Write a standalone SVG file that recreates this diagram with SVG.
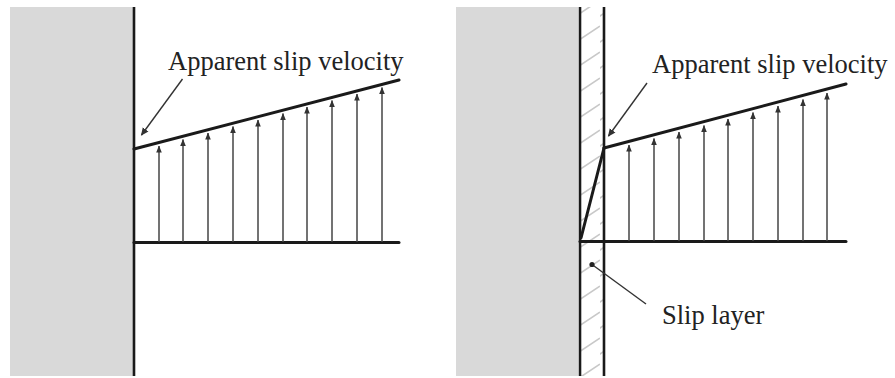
<svg xmlns="http://www.w3.org/2000/svg" width="895" height="378" viewBox="0 0 895 378">
<style>
.wallfill{fill:#d9d9d9;stroke:none}
.wall{stroke:#1a1a1a;stroke-width:2.6;fill:none}
.prof{stroke:#1a1a1a;stroke-width:3;fill:none;stroke-linecap:round}
.vel{stroke:#444;stroke-width:1.5;fill:none;marker-end:url(#ah)}
.lead{stroke:#333;stroke-width:1.4;fill:none}
.lbl{font-family:"Liberation Serif","Times New Roman",serif;font-size:26.5px;fill:#222}
</style>
<defs>
<marker id="ah" viewBox="0 0 7 6" refX="6.5" refY="3" markerWidth="7" markerHeight="6" markerUnits="userSpaceOnUse" orient="auto">
<path d="M7,3 L0,0.2 L0,5.8 Z" fill="#333"/>
</marker>
<marker id="lh" viewBox="0 0 8 8" refX="7" refY="4" markerWidth="8" markerHeight="8" markerUnits="userSpaceOnUse" orient="auto">
<path d="M0,0.5 L8,4 L0,7.5 Z" fill="#333"/>
</marker>
<pattern id="hatch" patternUnits="userSpaceOnUse" x="0" y="0" width="24" height="26">
<path d="M-12,24 L24,0 M12,40 L48,16 M-12,50 L24,26" stroke="#c8c8c8" stroke-width="1.5" fill="none"/>
</pattern>
</defs>

<g id="left-panel">
<rect class="wallfill" x="10" y="7" width="123" height="369"/>
<line class="wall" x1="134" y1="7" x2="134" y2="376"/>
</g>

<g id="right-panel">
<rect class="wallfill" x="456" y="7" width="122" height="369"/>
<rect x="580" y="7" width="24" height="369" fill="url(#hatch)"/>
<line class="wall" x1="580" y1="7" x2="580" y2="376"/>
<line class="wall" x1="604" y1="7" x2="604" y2="376"/>
</g>

<g id="left-profile">
<line class="prof" x1="134" y1="242.5" x2="399" y2="242.5"/>
<line class="prof" x1="134" y1="149" x2="399" y2="80"/>
</g>

<g id="right-profile">
<line class="prof" x1="580" y1="241.5" x2="846" y2="241.5"/>
<line class="prof" x1="604" y1="148" x2="846" y2="84"/>
<line class="prof" x1="581" y1="238" x2="604" y2="148"/>
</g>

<g id="connectors">
<line class="vel" x1="159" y1="242" x2="159" y2="146"/>
<line class="vel" x1="183" y1="242" x2="183" y2="139.5"/>
<line class="vel" x1="208" y1="242" x2="208" y2="133"/>
<line class="vel" x1="233" y1="242" x2="233" y2="126.5"/>
<line class="vel" x1="258" y1="242" x2="258" y2="120"/>
<line class="vel" x1="283" y1="242" x2="283" y2="113.5"/>
<line class="vel" x1="307" y1="242" x2="307" y2="107"/>
<line class="vel" x1="332" y1="242" x2="332" y2="100.5"/>
<line class="vel" x1="357" y1="242" x2="357" y2="94"/>
<line class="vel" x1="382" y1="242" x2="382" y2="87.5"/>

<line class="vel" x1="629" y1="241" x2="629" y2="145"/>
<line class="vel" x1="654" y1="241" x2="654" y2="138.5"/>
<line class="vel" x1="679" y1="241" x2="679" y2="132"/>
<line class="vel" x1="704" y1="241" x2="704" y2="125.5"/>
<line class="vel" x1="728" y1="241" x2="728" y2="119"/>
<line class="vel" x1="753" y1="241" x2="753" y2="112.5"/>
<line class="vel" x1="778" y1="241" x2="778" y2="106"/>
<line class="vel" x1="803" y1="241" x2="803" y2="99.5"/>
<line class="vel" x1="827" y1="241" x2="827" y2="93"/>

<line class="lead" x1="182.5" y1="79" x2="141.5" y2="135" marker-end="url(#lh)"/>
<line class="lead" x1="647" y1="83" x2="608.5" y2="136" marker-end="url(#lh)"/>
<line class="lead" x1="592" y1="264.5" x2="646" y2="304"/>
<circle cx="592" cy="264.5" r="2.6" fill="#222"/>
</g>

<g id="labels">
<text class="lbl" x="168" y="70">Apparent slip velocity</text>
<text class="lbl" x="652" y="73">Apparent slip velocity</text>
<text class="lbl" x="662" y="324">Slip layer</text>
</g>
</svg>
